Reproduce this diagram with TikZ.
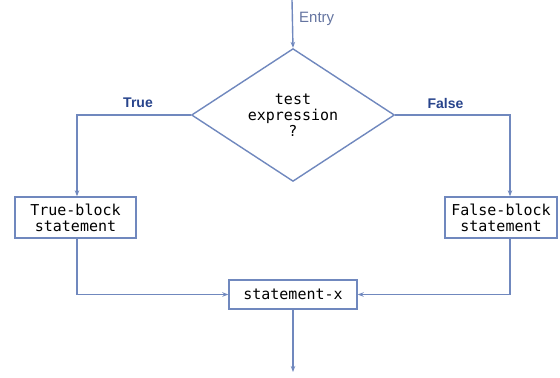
\documentclass[tikz,border=0pt]{standalone}
\usepackage{fontspec}
\setmainfont{Liberation Sans}
\newfontfamily\codefont{DejaVu Sans Mono}
\usetikzlibrary{shapes.geometric,arrows.meta}
\definecolor{linec}{RGB}{112,136,190}
\definecolor{labc}{RGB}{40,68,140}
\definecolor{entc}{RGB}{100,116,160}
\tikzset{
  flow/.style={draw=linec, line width=1.4bp},
  arr/.style={flow, -{Stealth[length=6bp,width=4.5bp]}},
  codebox/.style={draw=linec, line width=1.4bp, fill=white, inner sep=0pt, align=center,
    font=\codefont\fontsize{15bp}{16bp}\selectfont},
  lab/.style={text=labc, font=\bfseries\fontsize{14bp}{16bp}\selectfont, inner sep=0pt},
}
\begin{document}
\begin{tikzpicture}[x=1bp,y=-1bp]
\useasboundingbox (0,0) rectangle (560,377);
\coordinate (top) at (292,0);
\node[codebox, diamond, minimum width=203bp, minimum height=126bp] (d) at (293,115) {test\\expression\\?};
\node[codebox, minimum width=121bp, minimum height=41bp] (tb) at (75.5,217.5) {True-block\\statement};
\node[codebox, minimum width=112bp, minimum height=41bp] (fb) at (501,217.5) {False-block\\statement};
\node[codebox, minimum width=128bp, minimum height=29bp] (sx) at (293,294.5) {statement-x};
\coordinate (tx) at (77,0);
\coordinate (fx) at (510,0);
\coordinate (out) at (293,372);
\node[text=entc, font=\fontsize{15bp}{17bp}\selectfont, anchor=west, inner sep=0pt] (entry) at (299,19) {Entry};
\node[lab] (tl) at (138,103) {True};
\node[lab] (fl) at (445.5,103) {False};
\draw[arr] (top) -- (d.north);
\draw[arr] (d.west) -| (tb.north -| tx);
\draw[arr] (d.east) -| (fb.north -| fx);
\draw[arr] (tb.south -| tx) |- (sx.west);
\draw[arr] (fb.south -| fx) |- (sx.east);
\draw[arr] (sx.south) -- (out);
\end{tikzpicture}
\end{document}
